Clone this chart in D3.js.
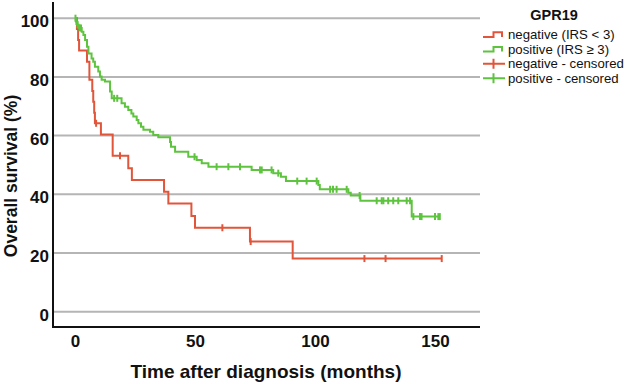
<!DOCTYPE html>
<html>
<head>
<meta charset="utf-8">
<script src="https://cdn.jsdelivr.net/npm/d3@7"></script>
<style>
  body { margin: 0; background: #fff; }
  svg { display: block; font-family: "Liberation Sans", Arial, sans-serif; }
</style>
</head>
<body>
<svg id="chart" width="628" height="384"></svg>
<script>
// Kaplan-Meier curves (time in months, survival in %)
const negTime = [0, 0.8, 1.3, 1.7, 5.0, 6.0, 7.2, 7.6, 8.0, 8.3, 10.8, 15.7, 22.2, 23.7, 37.1, 38.9, 48.5, 50.0, 72.9, 90.7];
const negSurv = [100, 96.3, 92.6, 89.0, 85.2, 79.0, 75.2, 71.5, 67.8, 64.2, 60.4, 53.1, 48.9, 44.9, 40.9, 36.9, 32.6, 28.6, 23.9, 18.1];
const negCensored = [8.8, 18.75, 61.4, 73.2, 120.6, 129.4, 152.8];

const posTime = [0, 0.4, 0.9, 1.5, 2.8, 3.5, 4.2, 5.0, 5.6, 6.9, 7.6, 8.3, 9.7, 10.4, 11.1, 12.5, 14.6, 15.3,
  19.4, 20.8, 22.2, 23.5, 24.3, 25.7, 26.4, 27.5, 28.5, 31.25, 32.6, 34.7, 39.6, 40.0, 41.7, 47.2, 50.7, 52.8,
  55.6, 73.6, 82.6, 85.8, 87.9, 101.4, 102.0, 113.9, 114.9, 118.9, 140.3];
const posSurv = [100, 98.9, 97.8, 96.7, 95.4, 94.3, 92.6, 90.3, 88.0, 86.3, 85.2, 83.5, 81.8, 80.1, 79.0, 78.4, 75.0, 72.7,
  71.0, 69.8, 68.7, 67.5, 66.5, 65.3, 64.2, 63.0, 62.0, 61.3, 60.2, 59.4, 57.8, 56.2, 54.5, 52.8, 51.7, 50.6,
  49.4, 48.3, 47.2, 46.0, 44.5, 43.2, 41.7, 40.5, 39.6, 37.8, 32.4];
const posCensored = [0.2, 0.6, 1.1, 1.9, 2.5, 16.3, 17.6, 49.8, 59.0, 63.9, 68.75, 77.1, 77.8, 81.9, 84.7, 92.6, 96.5, 100.7,
  106.3, 107.5, 109.0, 113.2, 118.6, 125.7, 127.8, 128.5, 130.5, 132.6, 134.7, 138.2, 139.6, 141.0, 143.75, 144.4,
  150.0, 151.4, 152.0];

const xTicks = [0, 50, 100, 150];
const yTicks = [0, 20, 40, 60, 80, 100];

const groups = [
  { name: "negative (IRS < 3)", cens: "negative - censored", time: negTime, surv: negSurv, censored: negCensored, color: "#e1553a" },
  { name: "positive (IRS \u2265 3)", cens: "positive - censored", time: posTime, surv: posSurv, censored: posCensored, color: "#5ec43f" }
];

const svg = d3.select("#chart");

const x = d3.scaleLinear().domain([0, 150]).range([75, 435]);
const y = d3.scaleLinear().domain([0, 100]).range([311.7, 18.2]);

const plotLeft = 53, plotRight = 480, plotBottom = 327, plotTop = 2;

// gridlines
svg.append("g")
  .selectAll("line")
  .data(yTicks)
  .enter().append("line")
  .attr("x1", plotLeft).attr("x2", plotRight)
  .attr("y1", d => y(d)).attr("y2", d => y(d))
  .attr("stroke", "#b5b5b5")
  .attr("stroke-width", 2);

// axes (labels only, axis lines drawn separately)
const xAxis = svg.append("g")
  .attr("transform", `translate(0,${plotBottom})`)
  .call(d3.axisBottom(x).tickValues(xTicks).tickSize(0).tickPadding(0));
xAxis.select(".domain").remove();
xAxis.selectAll("text")
  .attr("y", 20)
  .attr("dy", 0)
  .style("font-size", "17px")
  .style("font-weight", "bold")
  .style("font-family", "'Liberation Sans', Arial, sans-serif")
  .attr("fill", "#111");

const yAxis = svg.append("g")
  .attr("transform", `translate(${plotLeft},0)`)
  .call(d3.axisLeft(y).tickValues(yTicks).tickSize(0).tickPadding(4));
yAxis.select(".domain").remove();
yAxis.selectAll("text")
  .attr("dy", "0.5em")
  .style("font-size", "17px")
  .style("font-weight", "bold")
  .style("font-family", "'Liberation Sans', Arial, sans-serif")
  .attr("fill", "#111");

svg.append("line")
  .attr("x1", plotLeft).attr("x2", plotLeft)
  .attr("y1", plotTop).attr("y2", plotBottom + 1)
  .attr("stroke", "#111").attr("stroke-width", 2);
svg.append("line")
  .attr("x1", plotLeft - 1).attr("x2", plotRight)
  .attr("y1", plotBottom).attr("y2", plotBottom)
  .attr("stroke", "#111").attr("stroke-width", 2);

// axis titles
svg.append("text")
  .attr("x", 266)
  .attr("y", 378)
  .attr("text-anchor", "middle")
  .style("font-size", "19px")
  .style("font-weight", "bold")
  .attr("fill", "#111")
  .text("Time after diagnosis (months)");

svg.append("text")
  .attr("transform", "translate(17,176) rotate(-90)")
  .attr("text-anchor", "middle")
  .style("font-size", "17.5px")
  .style("font-weight", "bold")
  .attr("fill", "#111")
  .text("Overall survival (%)");

// survival at time t from the step function
function survAt(g, t) {
  let s = g.surv[0];
  for (let i = 0; i < g.time.length; i++) {
    if (g.time[i] <= t) s = g.surv[i];
  }
  return s;
}

const line = d3.line()
  .x(d => x(d[0]))
  .y(d => y(d[1]))
  .curve(d3.curveStepAfter);

groups.forEach(g => {
  const pts = g.time.map((t, i) => [t, g.surv[i]]);
  const end = d3.max(g.censored.concat(g.time));
  pts.push([end, survAt(g, end)]);

  svg.append("path")
    .datum(pts)
    .attr("fill", "none")
    .attr("stroke", g.color)
    .attr("stroke-width", 2)
    .attr("d", line);

  svg.append("g")
    .selectAll("line")
    .data(g.censored)
    .enter().append("line")
    .attr("x1", d => x(d)).attr("x2", d => x(d))
    .attr("y1", d => y(survAt(g, d)) - 3.5)
    .attr("y2", d => y(survAt(g, d)) + 3.5)
    .attr("stroke", g.color)
    .attr("stroke-width", 2);
});

// legend
const legend = svg.append("g");
legend.append("text")
  .attr("x", 554).attr("y", 20)
  .attr("text-anchor", "middle")
  .style("font-size", "14.5px")
  .style("font-weight", "bold")
  .attr("fill", "#111")
  .text("GPR19");

const rows = [
  { label: groups[0].name, color: groups[0].color, kind: "step" },
  { label: groups[1].name, color: groups[1].color, kind: "step" },
  { label: groups[0].cens, color: groups[0].color, kind: "cross" },
  { label: groups[1].cens, color: groups[1].color, kind: "cross" }
];

rows.forEach((r, i) => {
  const cy = 34.5 + i * 14.6;
  const gRow = legend.append("g");
  if (r.kind === "step") {
    gRow.append("path")
      .attr("d", `M483,${cy + 2.5}H493.5V${cy - 2.2}H502V${cy + 2.5}`)
      .attr("fill", "none")
      .attr("stroke", r.color)
      .attr("stroke-width", 2);
  } else {
    gRow.append("path")
      .attr("d", `M483,${cy}H505M493.5,${cy - 5}V${cy + 5}`)
      .attr("fill", "none")
      .attr("stroke", r.color)
      .attr("stroke-width", 2);
  }
  gRow.append("text")
    .attr("x", 508).attr("y", cy + 4.6)
    .style("font-size", "13.2px")
    .attr("fill", "#111")
    .text(r.label);
});
</script>
</body>
</html>
